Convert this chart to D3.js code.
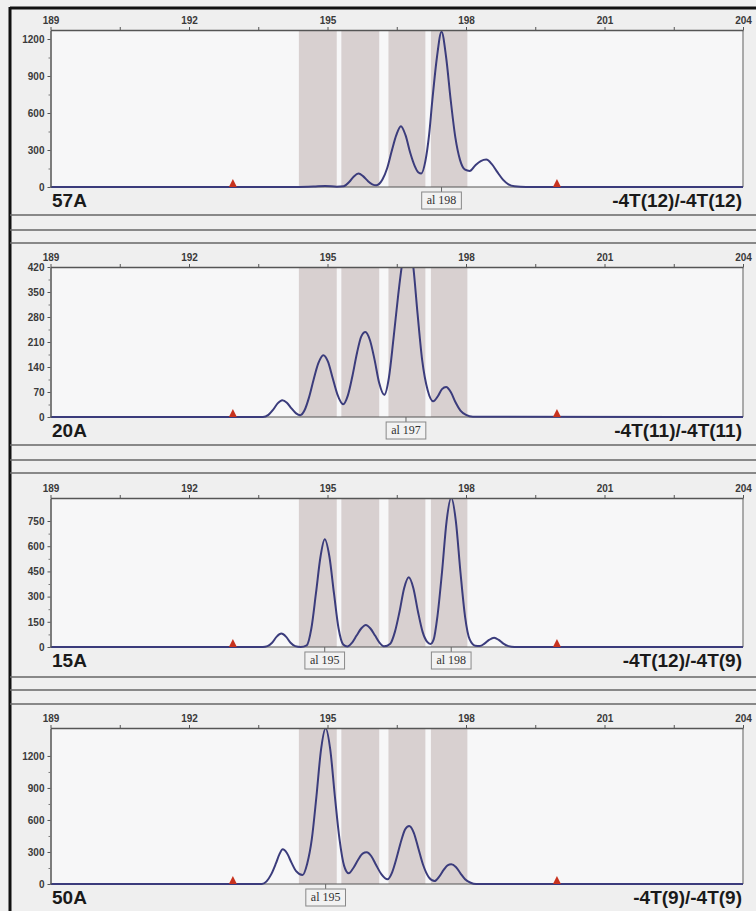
<!DOCTYPE html>
<html>
<head>
<meta charset="utf-8">
<script src="https://cdn.jsdelivr.net/npm/d3@7"></script>
<style>
  body { margin: 0; background: #efefef; }
  svg { display: block; }
  .tick text { font-family: "Liberation Sans", Arial, sans-serif; font-size: 10px; font-weight: bold; fill: #3a3a3a; }
</style>
</head>
<body>
<svg id="chart" width="756" height="911"></svg>
<script>
// fragment sizes (bp) on the top axis
const sizeTicks = [189, 190.5, 192, 193.5, 195, 196.5, 198, 199.5, 201, 202.5, 204];
const sizeLabels = [189, 192, 195, 198, 201, 204];

const sampleNames = ["57A", "20A", "15A", "50A"];
const genotypes = ["-4T(12)/-4T(12)", "-4T(11)/-4T(11)", "-4T(12)/-4T(9)", "-4T(9)/-4T(9)"];

// RFU axis
const yMaxes = [1273, 420, 887, 1462];
const yTicks = [
  [0, 300, 600, 900, 1200],
  [0, 70, 140, 210, 280, 350, 420],
  [0, 150, 300, 450, 600, 750],
  [0, 300, 600, 900, 1200]
];

// allele bins (grey bands) and size-standard markers
const bins = [[194.38, 195.2], [195.3, 196.12], [196.32, 197.12], [197.24, 198.03]];
const ladder = [192.95, 199.97];

// called alleles per sample
const alleles = [
  [[197.47, "al 198"]],
  [[196.7, "al 197"]],
  [[194.94, "al 195"], [197.68, "al 198"]],
  [[194.96, "al 195"]]
];

// traces: [size, rfu]
const trace57A = [[189,0],[194.3,0],[194.7,4],[194.95,9],[195.2,3],[195.35,6],
  [195.47,40],[195.57,85],[195.67,109],[195.77,88],[195.87,50],[195.97,22],[196.06,14],
  [196.19,60],[196.29,150],[196.39,290],[196.49,420],[196.59,493],[196.69,420],[196.79,280],[196.89,170],[196.97,118],[197.03,110],
  [197.12,210],[197.2,420],[197.27,700],[197.37,1050],[197.47,1259],[197.57,1050],[197.67,700],[197.77,400],[197.87,220],[197.98,140],[198.08,130],
  [198.2,175],[198.32,210],[198.44,222],[198.56,185],[198.68,120],[198.8,60],[198.92,22],[199.05,6],[199.3,0],[204,0]];

const trace20A = [[189,0],[193.6,0],[193.72,6],[193.82,20],[193.92,38],[194.02,47],[194.12,40],[194.22,24],[194.32,10],[194.41,5],
  [194.5,18],[194.6,55],[194.7,105],[194.8,150],[194.91,173],[195.01,155],[195.11,110],[195.21,65],[195.34,36],
  [195.44,60],[195.54,115],[195.64,180],[195.73,225],[195.82,238],[195.92,215],[196.02,160],[196.12,95],[196.23,62],
  [196.33,110],[196.43,220],[196.53,340],[196.63,440],[196.75,490],[196.85,430],[196.95,290],[197.05,160],[197.17,75],[197.29,44],
  [197.39,58],[197.48,78],[197.57,84],[197.67,70],[197.77,42],[197.88,18],[198.0,6],[198.15,1],[204,0]];

const trace15A = [[189,0],[193.6,0],[193.7,5],[193.8,25],[193.9,62],[194.0,80],[194.1,62],[194.2,25],[194.3,5],[194.42,0],
  [194.55,10],[194.65,110],[194.75,320],[194.85,540],[194.94,641],[195.04,540],[195.14,320],[195.24,110],[195.34,15],[195.43,3],
  [195.53,25],[195.63,68],[195.73,110],[195.83,131],[195.93,110],[196.03,68],[196.13,25],[196.23,4],
  [196.36,20],[196.46,90],[196.56,210],[196.66,350],[196.76,415],[196.86,350],[196.96,210],[197.06,90],[197.16,30],[197.23,18],
  [197.3,45],[197.38,180],[197.48,445],[197.58,750],[197.68,890],[197.78,750],[197.88,445],[197.98,180],[198.08,45],[198.2,8],
  [198.3,6],[198.4,20],[198.5,42],[198.61,55],[198.71,42],[198.81,20],[198.92,5],[199.05,0],[204,0]];

const trace50A = [[189,0],[193.58,0],[193.68,25],[193.78,90],[193.88,190],[193.96,280],[194.03,325],[194.12,290],[194.22,200],[194.32,120],[194.46,84],
  [194.56,190],[194.66,420],[194.76,820],[194.86,1260],[194.96,1460],[195.06,1260],[195.16,820],[195.26,420],[195.36,170],[195.46,100],
  [195.56,150],[195.66,225],[195.76,285],[195.85,297],[195.95,260],[196.05,180],[196.17,90],[196.3,44],
  [196.4,110],[196.5,250],[196.6,410],[196.68,510],[196.77,544],[196.87,480],[196.97,330],[197.07,180],[197.2,60],[197.32,28],
  [197.42,70],[197.52,135],[197.6,175],[197.68,185],[197.78,160],[197.88,100],[197.98,45],[198.1,12],[198.22,0],[204,0]];

const traces = [trace57A, trace20A, trace15A, trace50A];

// page layout
const panels = [{top: 30, bottom: 187}, {top: 267, bottom: 417}, {top: 498, bottom: 647}, {top: 728, bottom: 884}];
const separators = [[215, 230, 243], [445, 460, 473], [677, 690, 704]];

const svg = d3.select("#chart");
const x = d3.scaleLinear().domain([189, 204]).range([50.5, 743]);

// outer frame
svg.append("line").attr("x1", 10).attr("x2", 756).attr("y1", 8).attr("y2", 8)
  .attr("stroke", "#111").attr("stroke-width", 3);
svg.append("line").attr("x1", 10).attr("x2", 10).attr("y1", 7).attr("y2", 911)
  .attr("stroke", "#111").attr("stroke-width", 3);
separators.forEach(s => s.forEach(yy => {
  svg.append("line").attr("x1", 10).attr("x2", 756).attr("y1", yy).attr("y2", yy)
    .attr("stroke", "#666").attr("stroke-width", 1.6);
}));

panels.forEach((p, i) => {
  const g = svg.append("g");
  const y = d3.scaleLinear().domain([0, yMaxes[i]]).range([p.bottom, p.top]);
  const [x0, x1] = x.range();

  g.append("rect").attr("x", x0).attr("y", p.top).attr("width", x1 - x0).attr("height", p.bottom - p.top)
    .attr("fill", "#f7f7f8");

  g.selectAll(".bin").data(bins).enter().append("rect")
    .attr("x", d => x(d[0])).attr("width", d => x(d[1]) - x(d[0]))
    .attr("y", p.top).attr("height", p.bottom - p.top)
    .attr("fill", "#d8d0d0");

  // right border
  g.append("line").attr("x1", x1).attr("x2", x1).attr("y1", p.top).attr("y2", p.bottom)
    .attr("stroke", "#777").attr("stroke-width", 1.2);

  // clip so peaks over the scale get cut at the top
  const clipId = "clip" + i;
  svg.append("clipPath").attr("id", clipId).append("rect")
    .attr("x", x0).attr("y", p.top).attr("width", x1 - x0).attr("height", p.bottom - p.top + 2);

  // baseline
  g.append("line").attr("x1", x0).attr("x2", x1).attr("y1", p.bottom).attr("y2", p.bottom)
    .attr("stroke", "#555").attr("stroke-width", 1.2);

  const line = d3.line().x(d => x(d[0])).y(d => y(d[1])).curve(d3.curveMonotoneX);
  g.append("path").datum(traces[i]).attr("d", line)
    .attr("clip-path", `url(#${clipId})`)
    .attr("fill", "none").attr("stroke", "#3b3c7c").attr("stroke-width", 2);

  // top size axis
  const top = g.append("g").attr("transform", `translate(0,${p.top})`)
    .call(d3.axisTop(x).tickValues(sizeTicks).tickSize(3).tickSizeOuter(0)
      .tickFormat(d => sizeLabels.includes(d) ? d : ""));
  top.select(".domain").attr("stroke", "#555").attr("stroke-width", 1.5);
  top.selectAll(".tick line").attr("stroke", "#555");

  // left rfu axis with minor ticks at midpoints
  const ticks = yTicks[i];
  const minor = ticks.slice(1).map((t, k) => (t + ticks[k]) / 2);
  const left = g.append("g").attr("transform", `translate(${x0},0)`)
    .call(d3.axisLeft(y).tickValues(ticks).tickSize(3).tickPadding(3).tickSizeOuter(0)
      .tickFormat(d3.format("d")));
  left.select(".domain").attr("stroke", "#555").attr("stroke-width", 1.5);
  left.selectAll(".tick line").attr("stroke", "#555");
  g.append("g").attr("transform", `translate(${x0},0)`)
    .call(d3.axisLeft(y).tickValues(minor).tickSize(2).tickFormat(""))
    .call(a => a.select(".domain").remove())
    .selectAll(".tick line").attr("stroke", "#777");

  // size standard markers
  g.selectAll(".mark").data(ladder).enter().append("path")
    .attr("d", d => `M${x(d) - 4},${p.bottom} L${x(d)},${p.bottom - 8} L${x(d) + 4},${p.bottom} Z`)
    .attr("fill", "#c8321e");

  // allele calls
  alleles[i].forEach(([s, lab]) => {
    const cx = x(s);
    const a = g.append("g");
    a.append("line").attr("x1", cx).attr("x2", cx).attr("y1", p.bottom).attr("y2", p.bottom + 5)
      .attr("stroke", "#666");
    const box = a.append("rect").attr("y", p.bottom + 5).attr("height", 17)
      .attr("fill", "#f2f2f2").attr("stroke", "#888").attr("stroke-width", 1);
    const t = a.append("text").attr("x", cx).attr("y", p.bottom + 17)
      .attr("text-anchor", "middle")
      .style("font-family", "'Liberation Serif', 'Times New Roman', serif")
      .style("font-size", "12px").attr("fill", "#333").text(lab);
    const w = t.node().getComputedTextLength() + 10;
    box.attr("x", cx - w / 2).attr("width", w);
  });

  g.append("text").attr("x", 52).attr("y", p.bottom + 20)
    .style("font-family", "'Liberation Sans', Arial, sans-serif").style("font-size", "19px")
    .style("font-weight", "bold").attr("fill", "#1a1a1a").text(sampleNames[i]);
  g.append("text").attr("x", 742).attr("y", p.bottom + 20).attr("text-anchor", "end")
    .style("font-family", "'Liberation Sans', Arial, sans-serif").style("font-size", "19px")
    .style("font-weight", "bold").attr("fill", "#1a1a1a").text(genotypes[i]);
});
</script>
</body>
</html>
